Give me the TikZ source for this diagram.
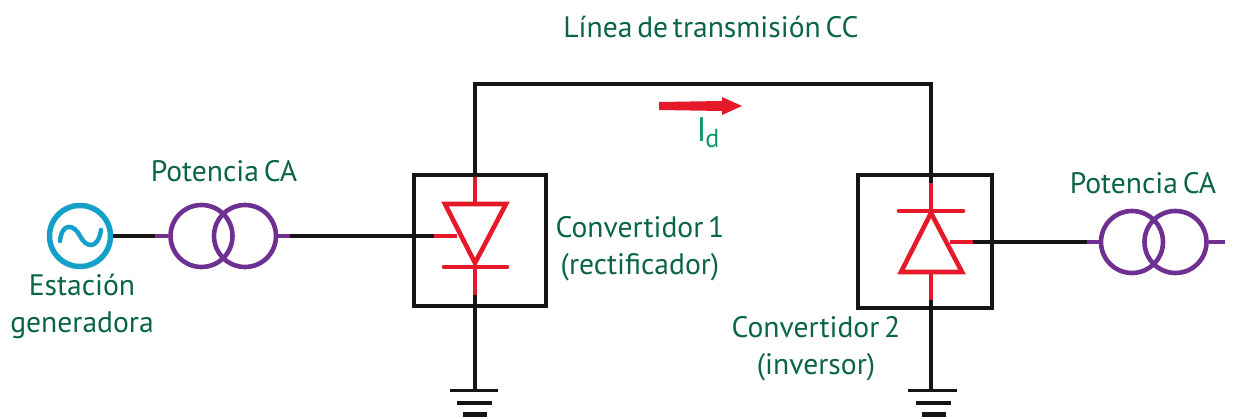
\documentclass[tikz,border=0pt]{standalone}
\usepackage{fontspec}
\setmainfont{PT Sans}[WordSpace=0.6]
\definecolor{txtgreen}{RGB}{10,100,72}
\definecolor{idgreen}{RGB}{10,150,110}
\definecolor{srcblue}{RGB}{20,160,200}
\definecolor{xfpurple}{RGB}{112,48,145}
\definecolor{dred}{RGB}{230,25,40}
\definecolor{wire}{RGB}{25,20,20}
\tikzset{
  wireline/.style={draw=wire,line width=4.6pt},
  redline/.style={draw=dred,line width=4.6pt},
  purpleline/.style={draw=xfpurple,line width=4.4pt},
  conbox/.style={draw=wire,line width=4.6pt,inner sep=0pt,miter limit=10},
  xfcircle/.style={circle,draw=xfpurple,line width=4.6pt,minimum size=62pt,inner sep=0pt},
  srccircle/.style={circle,draw=srcblue,line width=5.5pt,minimum size=61pt,inner sep=0pt},
  lbl/.style={text=txtgreen,font=\fontsize{29.6}{37}\selectfont,align=center,inner sep=0pt}
}
\begin{document}
\begin{tikzpicture}[x=1pt,y=-1pt]
\useasboundingbox (0,0) rectangle (1234,419);
% main shapes
\node[srccircle] (src) at (80,236) {};
\node[xfcircle] (ta) at (201.5,236) {};
\node[xfcircle] (tb) at (245,236) {};
\node[xfcircle] (tc) at (1132,242) {};
\node[xfcircle] (td) at (1175.5,242) {};
\node[conbox,minimum width=132pt,minimum height=131pt] (boxa) at (480,240.5) {};
\node[conbox,minimum width=134pt,minimum height=133pt] (boxb) at (925,241.5) {};
% junction coordinates
\coordinate (srcw) at (155,236);
\coordinate (t1w) at (290,236);
\coordinate (a1) at (434,236);
\coordinate (a2) at (457,236);
\coordinate (atop) at (475,84);
\coordinate (btop) at (931,84);
\coordinate (ared) at (475,177);
\coordinate (ared2) at (475,204);
\coordinate (aapex) at (475,265);
\coordinate (ablk) at (475,295);
\coordinate (agnd) at (475,391);
\coordinate (bred) at (931,183);
\coordinate (bapex) at (931,211);
\coordinate (bbase) at (931,272);
\coordinate (bblk) at (931,300);
\coordinate (bgnd) at (931,391);
\coordinate (b1) at (950,242);
\coordinate (b2) at (973,242);
\coordinate (b3) at (1087,242);
\coordinate (tdw) at (1225,242);
% wires
\draw[wireline] (src.east) -- (srcw);
\draw[purpleline] (srcw) -- (ta.west);
\draw[purpleline] (tb.east) -- (t1w);
\draw[wireline] (t1w) -- (a1);
\draw[redline] (a1) -- (a2);
\draw[wireline,line join=miter] (ared) -- (atop) -- (btop) -- (bred);
\draw[redline] (ared) -- (ared2);
\draw[redline] (aapex) -- (ablk);
\draw[wireline] (ablk) -- (agnd);
\draw[redline] (bred) -- (bapex);
\draw[redline] (bbase) -- (bblk);
\draw[wireline] (bblk) -- (bgnd);
\draw[redline] (b1) -- (b2);
\draw[wireline] (b2) -- (b3);
\draw[purpleline] (b3) -- (tc.west);
\draw[purpleline] (td.east) -- (tdw);
% diodes
\draw[redline,line join=miter] (445,204) -- (506,204) -- (475,263) -- cycle;
\draw[redline,line cap=round] (444,267) -- (507,267);
\draw[redline,line join=miter] (901,272) -- (962,272) -- (931,213) -- cycle;
\draw[redline,line cap=round] (899,211) -- (963,211);
% grounds
\draw[wire,line width=3pt] (450,391) -- (498,391);
\draw[wire,line width=4.5pt] (457,403) -- (492,403);
\draw[wire,line width=5pt] (463,414) -- (487,414);
\draw[wire,line width=3pt] (908,391) -- (957,391);
\draw[wire,line width=4.5pt] (916,403) -- (951,403);
\draw[wire,line width=5pt] (922,414) -- (946,414);
% sine
\draw[srcblue,line width=4.5pt,line cap=round] (60,241) .. controls (62,222) and (74,224) .. (80,236) .. controls (86,248) and (98,250) .. (101,230);
% current arrow
\fill[dred] (659,102) -- (722,101) -- (722,97) -- (742,106) -- (722,115) -- (722,111) -- (659,110) -- cycle;
% labels
\node[lbl] (ltitle) at (711,27) {Línea de transmisión CC};
\node[lbl] (lp1) at (224,171) {Potencia CA};
\node[lbl] (lp2) at (1143,183) {Potencia CA};
\node[lbl] (lest) at (82,306) {Estación\\generadora};
\node[lbl] (lc1) at (640,249) {Convertidor 1\\(rectificador)};
\node[lbl] (lc2) at (816,349) {Convertidor 2\\(inversor)};
\node[text=idgreen,inner sep=0pt] (lid) at (708,133) {\fontsize{34}{38}\selectfont I\kern-1pt\raisebox{-6pt}{\fontsize{26}{30}\selectfont d}};
\end{tikzpicture}
\end{document}
